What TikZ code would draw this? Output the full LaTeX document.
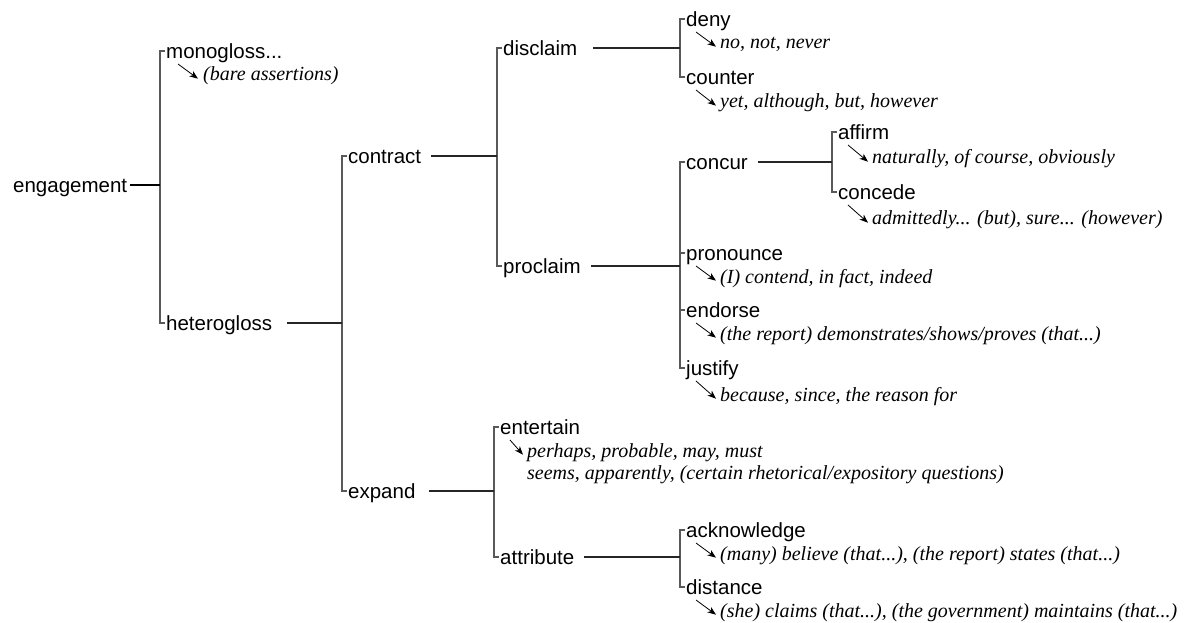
\documentclass[tikz,border=0pt]{standalone}
\usepackage{fontspec}
\setmainfont{Liberation Serif}
\setsansfont{Liberation Sans}
\usetikzlibrary{arrows.meta}
\begin{document}
\begin{tikzpicture}[x=1pt,y=-1pt,
  lab/.style={inner sep=0pt,anchor=west,text height=16pt,text depth=1.4pt,
    font=\sffamily\fontsize{20.5}{24}\selectfont},
  ex/.style={inner sep=0pt,anchor=base west,font=\rmfamily\itshape\fontsize{20}{22}\selectfont},
  bracket/.style={line width=1.5pt,black!65},
  link/.style={line width=1.1pt,black!85},
  rootlink/.style={line width=2pt,black},
  exarrow/.style={line width=0.8pt,black,-{Stealth[length=8.5pt,width=6.5pt,inset=2.5pt]}}]
\useasboundingbox (0,0) rectangle (1184,623);

% bracket columns
\coordinate (B0) at (160,0);
\coordinate (B1) at (342,0);
\coordinate (B2) at (497,0);
\coordinate (B3) at (680,0);
\coordinate (B4) at (832,0);
\coordinate (B5) at (494,0);

% system labels (west anchor sits on the tick line)
\node[lab] (engagement) at (13,185) {engagement};
\node[lab] (mono) at (166,51) {monogloss...};
\node[lab] (hetero) at (166,323) {heterogloss};
\node[lab] (contract) at (348,156) {contract};
\node[lab] (expand) at (348,491) {expand};
\node[lab] (disclaim) at (503,48) {disclaim};
\node[lab] (proclaim) at (503,266) {proclaim};
\node[lab] (deny) at (686,19) {deny};
\node[lab] (counter) at (686,77) {counter};
\node[lab] (concur) at (686,162) {concur};
\node[lab] (pronounce) at (686,253) {pronounce};
\node[lab] (endorse) at (686,310) {endorse};
\node[lab] (justify) at (686,368) {justify};
\node[lab] (affirm) at (838,132) {affirm};
\node[lab] (concede) at (838,192) {concede};
\node[lab] (entertain) at (500,427) {entertain};
\node[lab] (attribute) at (500,557) {attribute};
\node[lab] (acknowledge) at (686,530) {acknowledge};
\node[lab] (distance) at (686,587) {distance};

% realisations
\node[ex] (monoex) at (203,81) {(bare assertions)};
\node[ex] (denyex) at (720,49) {no, not, never};
\node[ex] (counterex) at (720,108) {yet, although, but, however};
\node[ex] (affirmex) at (872,164) {naturally, of course, obviously};
\node[ex] (concedeex) at (872,225) {admittedly... (but), sure... (however)};
\node[ex] (pronounceex) at (720,283) {(I) contend, in fact, indeed};
\node[ex] (endorseex) at (720,340) {(the report) demonstrates/shows/proves (that...)};
\node[ex] (justifyex) at (720,401) {because, since, the reason for};
\node[ex] (entex) at (527,457) {perhaps, probable, may, must};
\node[ex] (entexb) at (527,479) {seems, apparently, (certain rhetorical/expository questions)};
\node[ex] (ackex) at (720,560) {(many) believe (that...), (the report) states (that...)};
\node[ex] (distex) at (720,617) {(she) claims (that...), (the government) maintains (that...)};

% brackets
\draw[bracket] ([xshift=-1pt]mono.west) -- (mono.west -| B0) -- (hetero.west -| B0) -- ([xshift=-1pt]hetero.west);
\draw[bracket] ([xshift=-1pt]contract.west) -- (contract.west -| B1) -- (expand.west -| B1) -- ([xshift=-1pt]expand.west);
\draw[bracket] ([xshift=-1pt]disclaim.west) -- (disclaim.west -| B2) -- (proclaim.west -| B2) -- ([xshift=-1pt]proclaim.west);
\draw[bracket] ([xshift=-1pt]deny.west) -- (deny.west -| B3) -- (counter.west -| B3) -- ([xshift=-1pt]counter.west);
\draw[bracket] ([xshift=-1pt]concur.west) -- (concur.west -| B3) -- (justify.west -| B3) -- ([xshift=-1pt]justify.west);
\draw[bracket] (pronounce.west -| B3) -- ([xshift=-1pt]pronounce.west);
\draw[bracket] (endorse.west -| B3) -- ([xshift=-1pt]endorse.west);
\draw[bracket] ([xshift=-1pt]affirm.west) -- (affirm.west -| B4) -- (concede.west -| B4) -- ([xshift=-1pt]concede.west);
\draw[bracket] ([xshift=-1pt]entertain.west) -- (entertain.west -| B5) -- (attribute.west -| B5) -- ([xshift=-1pt]attribute.west);
\draw[bracket] ([xshift=-1pt]acknowledge.west) -- (acknowledge.west -| B3) -- (distance.west -| B3) -- ([xshift=-1pt]distance.west);

% parent links
\draw[rootlink] ([xshift=3pt]engagement.east) -- (engagement.east -| B0);
\draw[link] ([xshift=15pt]hetero.east) -- (hetero.east -| B1);
\draw[link] ([xshift=10pt]contract.east) -- (contract.east -| B2);
\draw[link] ([xshift=13pt]expand.east) -- (expand.east -| B5);
\draw[link] ([xshift=16pt]disclaim.east) -- (disclaim.east -| B3);
\draw[link] ([xshift=10pt]proclaim.east) -- (proclaim.east -| B3);
\draw[link] ([xshift=10pt]concur.east) -- (concur.east -| B4);
\draw[link] ([xshift=10pt]attribute.east) -- (attribute.east -| B3);

% realisation arrows
\draw[exarrow] ([xshift=12pt,yshift=-13pt]mono.west) -- ([xshift=-5pt]monoex.mid west);
\foreach \l/\e in {deny/denyex,counter/counterex,affirm/affirmex,concede/concedeex,pronounce/pronounceex,endorse/endorseex,justify/justifyex,entertain/entex,acknowledge/ackex,distance/distex}
  \draw[exarrow] ([xshift=10pt,yshift=-13pt]\l.west) -- ([xshift=-4pt]\e.mid west);
\end{tikzpicture}
\end{document}
